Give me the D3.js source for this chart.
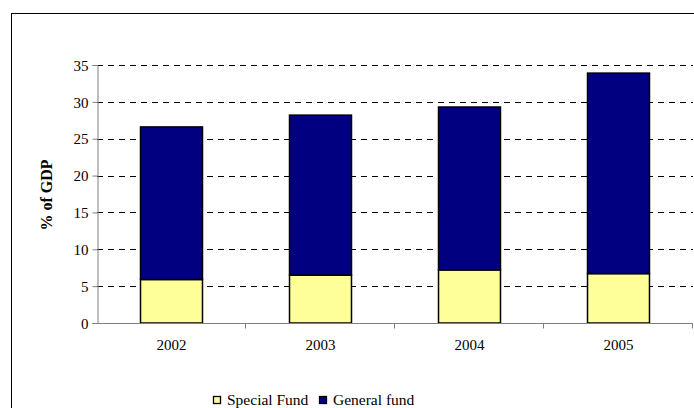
<!DOCTYPE html>
<html>
<head>
<meta charset="utf-8">
<script src="https://cdn.jsdelivr.net/npm/d3@7"></script>
<style>
  html, body { margin: 0; padding: 0; background: #fff; }
  svg { display: block; }
  svg text { fill: #000; }
</style>
</head>
<body>
<svg id="chart" width="694" height="408"></svg>
<script>
// Revenue composition by year, % of GDP
const years = ["2002", "2003", "2004", "2005"];
const specialFund = [5.9, 6.5, 7.2, 6.7];
const generalFund = [20.7, 21.7, 22.1, 27.2];
const seriesNames = ["Special Fund", "General fund"];
const seriesColors = ["#FFFF99", "#000080"];
const yTicks = [0, 5, 10, 15, 20, 25, 30, 35];

const FONT = "Liberation Serif";
const svg = d3.select("#chart");
const W = 694, H = 408;

// outer chart frame
svg.append("rect")
  .attr("x", 11.5).attr("y", 13.5)
  .attr("width", W).attr("height", H)
  .attr("fill", "none").attr("stroke", "#000").attr("stroke-width", 1);

const plot = { left: 97, right: 693, top: 65, bottom: 323 };

const x = d3.scaleBand()
  .domain(years)
  .range([plot.left, plot.right])
  .paddingInner(0.584)
  .paddingOuter(0.292);

const y = d3.scaleLinear()
  .domain([0, 35])
  .range([plot.bottom, plot.top]);

// dashed horizontal gridlines
svg.append("g")
  .selectAll("line")
  .data(yTicks.filter(d => d > 0))
  .join("line")
  .attr("x1", plot.left).attr("x2", plot.right)
  .attr("y1", d => Math.round(y(d)) + 0.5).attr("y2", d => Math.round(y(d)) + 0.5)
  .attr("stroke", "#000").attr("stroke-width", 1)
  .attr("stroke-dasharray", "6,5");

// stacked bars
const rows = years.map((yr, i) => ({ year: yr, special: specialFund[i], general: generalFund[i] }));
const stacked = d3.stack().keys(["special", "general"])(rows);

svg.append("g")
  .selectAll("g")
  .data(stacked)
  .join("g")
  .attr("fill", (d, i) => seriesColors[i])
  .selectAll("rect")
  .data(d => d)
  .join("rect")
  .attr("x", d => x(d.data.year))
  .attr("y", d => y(d[1]))
  .attr("width", x.bandwidth())
  .attr("height", d => y(d[0]) - y(d[1]))
  .attr("stroke", "#000").attr("stroke-width", 1.5);

// y axis
const yAxis = d3.axisLeft(y).tickValues(yTicks).tickSize(5).tickPadding(4);
const gy = svg.append("g")
  .attr("transform", `translate(${plot.left + 0.5},0)`)
  .call(yAxis)
  .attr("font-family", FONT)
  .attr("font-size", 15);
gy.select(".domain").attr("stroke", "#808080");
gy.selectAll(".tick line").attr("stroke", "#808080");
gy.selectAll("text").attr("dy", "0.35em");

// x axis: category labels centred in bands, tick marks on band boundaries
const gx = svg.append("g").attr("transform", `translate(0,${plot.bottom + 0.5})`);
gx.append("line")
  .attr("x1", plot.left).attr("x2", plot.right)
  .attr("stroke", "#808080");
const step = x.step();
gx.selectAll("line.tk")
  .data(years)
  .join("line")
  .attr("class", "tk")
  .attr("x1", (d, i) => Math.round(plot.left + step * (i + 1)) - 0.5)
  .attr("x2", (d, i) => Math.round(plot.left + step * (i + 1)) - 0.5)
  .attr("y1", 0).attr("y2", 5)
  .attr("stroke", "#808080");
gx.selectAll("text")
  .data(years)
  .join("text")
  .attr("x", d => x(d) + x.bandwidth() / 2)
  .attr("y", 26.5)
  .attr("text-anchor", "middle")
  .attr("font-family", FONT)
  .attr("font-size", 15)
  .text(d => d);

// y axis title
svg.append("text")
  .attr("transform", "translate(52,195) rotate(-90)")
  .attr("text-anchor", "middle")
  .attr("font-family", FONT)
  .attr("font-size", 16)
  .attr("font-weight", "bold")
  .text("% of GDP");

// legend
const legend = svg.append("g").attr("transform", "translate(213,396)");
const legendItems = [
  { name: seriesNames[0], color: seriesColors[0], dx: 0 },
  { name: seriesNames[1], color: seriesColors[1], dx: 106 }
];
const li = legend.selectAll("g").data(legendItems).join("g")
  .attr("transform", d => `translate(${d.dx},0)`);
li.append("rect")
  .attr("x", 0.5).attr("y", 0.5).attr("width", 7).attr("height", 7)
  .attr("fill", d => d.color).attr("stroke", "#000").attr("stroke-width", 1.3);
li.append("text")
  .attr("x", 14).attr("y", 8.5)
  .attr("font-family", FONT)
  .attr("font-size", 15.5)
  .text(d => d.name);
</script>
</body>
</html>
